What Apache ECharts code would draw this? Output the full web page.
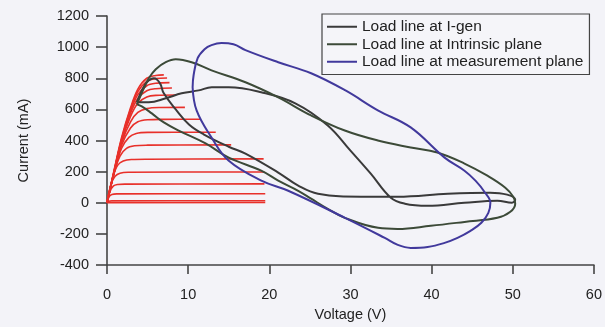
<!DOCTYPE html>
<html>
<head>
<meta charset="utf-8">
<script src="https://cdn.jsdelivr.net/npm/echarts@6/dist/echarts.min.js"></script>
<style>
  html, body { margin: 0; padding: 0; background: #f3f3f8; }
  #chart { width: 605px; height: 327px; }
</style>
</head>
<body>
<div id="chart"></div>
<script>
// Axis ticks
const xTicks = [0, 10, 20, 30, 40, 50, 60];
const yTicks = [-400, -200, 0, 200, 400, 600, 800, 1000, 1200];

// DC I-V family: [voltage V, current mA]
const iv0  = [[0,0],[19.5,2]];
const iv1  = [[0,0],[0.2,9],[0.6,12],[19.5,13]];
const iv2  = [[0,0],[0.25,38],[0.6,53],[1.2,57],[19.5,58]];
const iv3  = [[0,0],[0.4,75],[0.8,108],[1.3,117],[2.2,120],[19.4,121]];
const iv4  = [[0,0],[0.5,120],[1,170],[1.6,190],[2.6,196],[19.4,198]];
const iv5  = [[0,0],[0.7,160],[1.3,240],[2,268],[3,278],[5,280],[19.3,282]];
const iv6  = [[0,0],[0.8,180],[1.6,300],[2.4,350],[3.4,366],[5,370],[15.3,372]];
const iv7  = [[0,0],[0.9,195],[1.8,350],[2.7,420],[3.6,445],[5,452],[13.4,453]];
const iv8  = [[0,0],[0.9,198],[1.8,370],[2.9,480],[3.8,520],[5,533],[7,536],[11.5,537]];
const iv9  = [[0,0],[0.9,200],[1.8,385],[2.9,520],[3.8,580],[4.9,605],[6.5,612],[9.6,613]];
const iv10 = [[0,0],[0.9,203],[1.8,395],[2.9,555],[3.8,640],[4.9,680],[6,690],[8.5,692]];
const iv11 = [[0,0],[0.9,205],[1.8,400],[2.9,575],[3.8,670],[4.9,720],[6,733],[8.0,737]];
const iv12 = [[0,0],[0.9,208],[1.8,405],[2.9,590],[3.8,695],[4.9,752],[6,768],[7.7,772]];
const iv13 = [[0,0],[0.9,210],[1.8,410],[2.9,600],[3.8,715],[4.9,780],[6,798],[7.4,802]];
const iv14 = [[0,0],[0.9,215],[1.8,420],[2.9,610],[3.8,730],[4.9,800],[6,818],[7.0,822]];
const ivFamily = [iv0, iv1, iv2, iv3, iv4, iv5, iv6, iv7, iv8, iv9, iv10, iv11, iv12, iv13, iv14];

// Load line at the current generator
const loadIgen = [
  [3.68,645],[4.29,722],[4.91,774],[5.77,800],[6.5,770],[7.0,703],[8.47,600],[10.1,503],
  [11.9,440],[15.0,360],[17.06,316],[21.1,194],[23.56,110],[26.0,58],[31.3,39],[35.8,39],
  [42.0,58],[47.2,65],[49.3,52],[50.3,19],[49.9,0],[48.1,13],[44.05,0],[39.5,-19],
  [36.7,-6],[34.97,32],[32.5,187],[30.0,335],[27.2,497],[23.2,639],[19.0,710],[15.0,742],
  [12.9,742],[11.3,722],[9.2,703],[7.24,671],[5.15,645],[3.68,645]
];

// Load line at the intrinsic plane
const loadIntrinsic = [
  [3.68,632],[4.54,735],[5.15,800],[6.01,858],[7.24,903],[8.47,922],[10.43,903],[12.88,851],
  [17.06,774],[21.1,677],[25.15,561],[29.3,464],[33.37,400],[37.42,355],[40.7,323],[44.05,252],
  [46.87,174],[49.08,97],[50.06,39],[50.3,-6],[49.7,-58],[48.1,-97],[44.05,-123],[39.9,-148],
  [35.8,-168],[33.4,-161],[29.3,-97],[27.2,-39],[25.15,26],[23.56,77],[21.1,142],[19.0,206],
  [15.0,290],[12.15,381],[8.83,464],[7.0,516],[5.52,574],[4.29,619],[3.68,632]
];

// Load line at the measurement plane
const loadMeasured = [
  [10.55,742],[10.67,819],[11.17,929],[12.02,987],[12.88,1013],[14.11,1026],[15.58,1019],[17.06,981],
  [21.1,903],[25.15,832],[29.33,723],[33.37,594],[37.42,484],[41.6,290],[44.05,206],[45.4,142],
  [46.5,71],[47.24,0],[46.99,-65],[46.13,-129],[44.79,-181],[43.19,-226],[41.6,-258],[39.51,-284],
  [37.42,-290],[35.83,-271],[34.23,-226],[29.33,-97],[22.33,77],[19.02,142],[14.97,271],[12.88,419],
  [11.04,593],[10.55,742]
];

const names = ['Load line at I-gen', 'Load line at Intrinsic plane', 'Load line at measurement plane'];
const colors = ['#3a3a3a', '#3c4a38', '#41399c'];

const font = "'Liberation Sans', Arial, sans-serif";
const chart = echarts.init(document.getElementById('chart'), null, { renderer: 'canvas' });

const series = ivFamily.map(d => ({
  type: 'line', data: d, symbol: 'none', smooth: 0.35, silent: true,
  lineStyle: { color: '#e8302a', width: 1.6 }, z: 1
}));
[loadIgen, loadIntrinsic, loadMeasured].forEach((d, i) => {
  series.push({
    name: names[i], type: 'line', data: d, symbol: 'none', smooth: 0.4,
    lineStyle: { color: colors[i], width: 2 }, itemStyle: { color: colors[i] }, z: 3
  });
});

chart.setOption({
  animation: false,
  backgroundColor: '#f3f3f8',
  grid: { left: 107, right: 8, top: 16, bottom: 62 },
  legend: {
    data: names, orient: 'vertical', left: 322, top: 14,
    padding: [4, 6, 4, 5], itemWidth: 30, itemHeight: 2, itemGap: 0,
    icon: 'rect',
    borderColor: '#444', borderWidth: 1.2, backgroundColor: '#f5f5f9',
    textStyle: { fontFamily: font, fontSize: 15.5, color: '#222', lineHeight: 17.5 }
  },
  xAxis: {
    type: 'value', min: xTicks[0], max: xTicks[xTicks.length - 1], interval: 10,
    name: 'Voltage (V)', nameLocation: 'middle', nameGap: 42,
    nameTextStyle: { fontFamily: font, fontSize: 14.5, color: '#222' },
    axisLine: { onZero: false, lineStyle: { color: '#444', width: 1.6 } },
    axisTick: { length: 9, lineStyle: { color: '#444', width: 1.6 } },
    axisLabel: { margin: 22, fontFamily: font, fontSize: 14.5, color: '#222', formatter: v => String(v) },
    splitLine: { show: false }
  },
  yAxis: {
    type: 'value', min: yTicks[0], max: yTicks[yTicks.length - 1], interval: 200,
    name: 'Current (mA)', nameLocation: 'middle', nameGap: 76, nameRotate: 90,
    nameTextStyle: { fontFamily: font, fontSize: 14.5, color: '#222' },
    axisLine: { onZero: false, lineStyle: { color: '#444', width: 1.6 } },
    axisTick: { length: 11, lineStyle: { color: '#444', width: 1.6 } },
    axisLabel: { margin: 18, fontFamily: font, fontSize: 14.5, color: '#222', formatter: v => String(v) },
    splitLine: { show: false }
  },
  series: series
});
</script>
</body>
</html>
